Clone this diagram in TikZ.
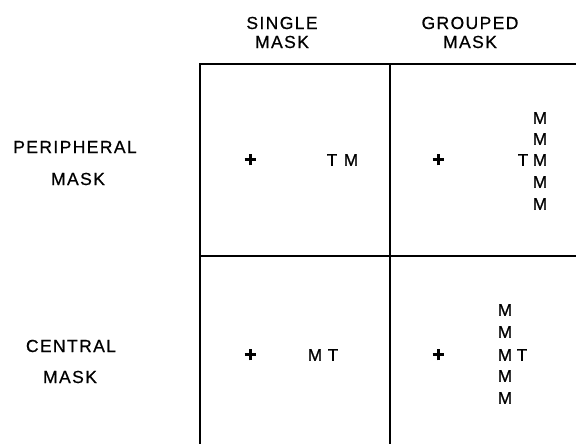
\documentclass[tikz,border=0pt]{standalone}
\usepackage{fontspec}
\setmainfont{Liberation Sans}
\newfontfamily\labelfont[LetterSpace=8,FakeBold=0.6]{Liberation Sans}
\newfontfamily\cellfont[FakeBold=1]{Liberation Sans}
\begin{document}
\begin{tikzpicture}[x=1pt,y=1pt,
  grid/.style={line width=1.4pt,black},
  heading/.style={font=\labelfont\fontsize{17.5}{20}\selectfont,align=center,inner sep=0pt},
  letter/.style={font=\cellfont\fontsize{17}{17}\selectfont,inner sep=0pt},
  cross/.style={line width=3pt,black}]
\useasboundingbox (0,0) rectangle (576,444);
% grid of four cells, open to the right and bottom
\draw[grid] (200,0) -- (200,380) -- (576,380);
\draw[grid] (390,380) -- (390,0);
\draw[grid] (200,188) -- (576,188);
% column headings
\node[heading] (hsA) at (282,421) {SINGLE};
\node[heading] (hsB) at (282,402) {MASK};
\node[heading] (hgA) at (470,421) {GROUPED};
\node[heading] (hgB) at (470,402) {MASK};
% row headings
\node[heading] (rpA) at (75,297) {PERIPHERAL};
\node[heading] (rpB) at (78,265) {MASK};
\node[heading] (rcA) at (71,98) {CENTRAL};
\node[heading] (rcB) at (70,67) {MASK};
% fixation crosses
\foreach \n/\cx/\cy in {fa/250/284, fb/438/284, fc/250/89, fd/438/89}{
  \coordinate (\n) at (\cx,\cy);
  \draw[cross] ([xshift=-5.5pt]\n) -- ([xshift=5.5pt]\n);
  \draw[cross] ([yshift=-5.5pt]\n) -- ([yshift=5.5pt]\n);
}
% peripheral, single mask
\node[letter] (t1) at (332,284) {T};
\node[letter] (m1) at (351,284) {M};
% peripheral, grouped mask
\node[letter] (t2) at (523,284) {T};
\foreach \i/\yy in {1/326,2/305,3/284,4/262,5/240}
  \node[letter] (m2\i) at (540,\yy) {M};
% central, single mask
\node[letter] (m3) at (315,89) {M};
\node[letter] (t3) at (333,89) {T};
% central, grouped mask
\node[letter] (t4) at (522,89) {T};
\foreach \i/\yy in {1/134,2/112,3/89,4/68,5/46}
  \node[letter] (m4\i) at (505,\yy) {M};
\end{tikzpicture}
\end{document}
